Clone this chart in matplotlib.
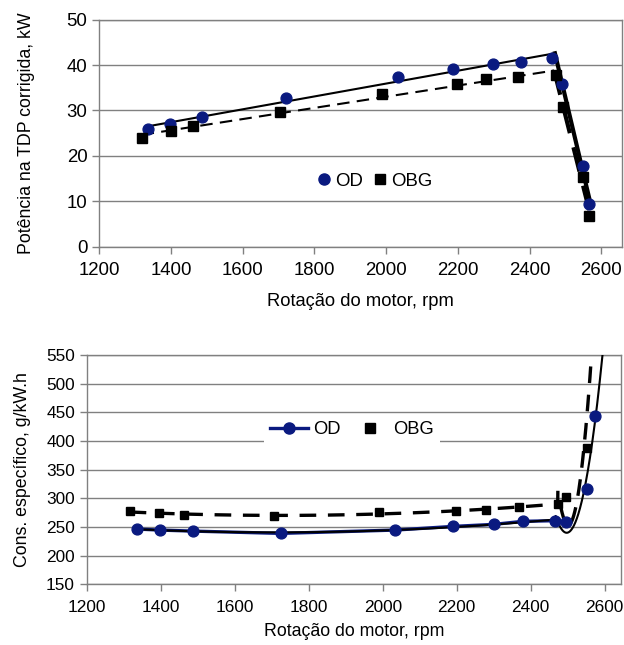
import numpy as np
import matplotlib
matplotlib.use("Agg")
import matplotlib.pyplot as plt
from matplotlib.lines import Line2D

plt.rcParams['font.family'] = ['Liberation Sans', 'DejaVu Sans']

# ---- data: power (top) ----
od_rpm = [1335, 1397, 1487, 1721, 2032, 2187, 2299, 2375, 2463, 2490, 2550, 2567]
od_pow = [25.9, 27.0, 28.6, 32.8, 37.4, 39.1, 40.3, 40.6, 41.6, 35.9, 17.8, 9.4]
obg_rpm = [1318, 1399, 1460, 1705, 1989, 2197, 2280, 2368, 2473, 2493, 2548, 2567]
obg_pow = [24.0, 25.5, 26.5, 29.7, 33.7, 35.9, 36.9, 37.4, 37.7, 30.8, 15.3, 6.9]

# ---- data: specific consumption (bottom) ----
od_rpm2 = [1335, 1397, 1487, 1724, 2034, 2190, 2300, 2378, 2467, 2495, 2552, 2573]
od_cons = [246.4, 244.6, 242.8, 238.8, 244.6, 251.0, 254.5, 259.8, 261.0, 258.6, 316.4, 443.1]
obg_rpm2 = [1316, 1396, 1462, 1707, 1989, 2197, 2280, 2369, 2473, 2495, 2553, 2567]
obg_cons = [277.9, 273.8, 270.9, 268.5, 275.5, 277.9, 280.2, 285.5, 289.6, 303.0, 387.1, 620.0]

xticks = [1200, 1400, 1600, 1800, 2000, 2200, 2400, 2600]
yticks_top = [0, 10, 20, 30, 40, 50]
yticks_bot = [150, 200, 250, 300, 350, 400, 450, 500, 550]

NAVY = '#0a1a80'
GRID = '#808080'
FS_TOP = 13.4
FS_BOT = 12.4
LFS = 13.2

fig = plt.figure(figsize=(6.24, 6.45), dpi=100)
ax1 = fig.add_axes([99.3 / 624, 1 - 247 / 645, (621.5 - 99.3) / 624, (247 - 19.5) / 645])
ax2 = fig.add_axes([86.7 / 624, 1 - 584.3 / 645, (621.5 - 86.7) / 624, (584.3 - 355) / 645])


def style(ax, yt, ylim, xmax, fs):
    ax.set_xlim(1200, xmax)
    ax.set_ylim(*ylim)
    ax.set_xticks(xticks)
    ax.set_yticks(yt)
    ax.tick_params(labelsize=fs, direction='out', length=5, color=GRID, width=1)
    ax.tick_params(axis='x', pad=6)
    for s in ax.spines.values():
        s.set_color(GRID)
        s.set_linewidth(1)
    ax.yaxis.grid(True, color=GRID, lw=1)
    ax.set_axisbelow(True)


def seg_fit(x, y, i0, i1, deg=1):
    x = np.asarray(x[i0:i1], float)
    y = np.asarray(y[i0:i1], float)
    return np.polyfit(x - 2000, y, deg)


# ---- top ----
style(ax1, yticks_top, (0, 50), 1200 + (621.5 - 99.3) / 71.7 * 200, FS_TOP)
for xs, ys, ls in [(od_rpm, od_pow, '-'), (obg_rpm, obg_pow, (0, (6, 3.5)))]:
    p1 = seg_fit(xs, ys, 0, 9)
    p2 = seg_fit(xs, ys, 9, len(xs))
    xi = (p2[1] - p1[1]) / (p1[0] - p2[0]) + 2000
    xa = np.array([xs[0], xi])
    xb = np.array([xi, xs[-1]])
    ax1.plot(xa, np.polyval(p1, xa - 2000), color='black', ls=ls, lw=1.5, zorder=3)
    ax1.plot(xb, np.polyval(p2, xb - 2000), color='black', ls=ls, lw=3.0, zorder=3)
ax1.plot(od_rpm, od_pow, 'o', color=NAVY, ms=7.8, ls='none', zorder=4)
ax1.plot(obg_rpm, obg_pow, 's', color='black', ms=6.8, ls='none', zorder=4)
ax1.set_xlabel('Rotação do motor, rpm', fontsize=LFS, labelpad=10)
ax1.set_ylabel('Potência na TDP corrigida, kW', fontsize=12.8, labelpad=23)
h1 = [Line2D([], [], marker='o', color=NAVY, ls='none', ms=8),
      Line2D([], [], marker='s', color='black', ls='none', ms=6.5)]
ax1.legend(h1, ['OD', 'OBG'], loc='center', bbox_to_anchor=(0.528, 0.29), ncol=2,
           frameon=False, fontsize=FS_TOP, handlelength=0.7, handletextpad=0.25,
           columnspacing=0.6)

# ---- bottom ----
style(ax2, yticks_bot, (150, 550), 1200 + (621.5 - 86.7) / 74.0 * 200, FS_BOT)
for xs, ys, ls, lw in [(od_rpm2, od_cons, '-', 1.5), (obg_rpm2, obg_cons, (0, (5, 3.5)), 2.4)]:
    pa = seg_fit(xs, ys, 0, 9, 2)
    pb = seg_fit(xs, ys, 8, len(xs), 2)
    xa = np.linspace(xs[0], xs[8], 200)
    xb = np.linspace(xs[8], 2600, 300)
    xc = np.concatenate([xa, xb[1:]])
    yc = np.concatenate([np.polyval(pa, xa - 2000), np.polyval(pb, xb[1:] - 2000)])
    ax2.plot(xc, yc, color='black', ls=ls, lw=lw, zorder=3)
ax2.plot(od_rpm2[:10], od_cons[:10], '-', color=NAVY, lw=2.4, zorder=2.5)
ax2.plot(od_rpm2, od_cons, 'o', color=NAVY, ms=7.8, ls='none', zorder=4)
ax2.plot(obg_rpm2, obg_cons, 's', color='black', ms=6.2, ls='none', zorder=4)
ax2.set_xlabel('Rotação do motor, rpm', fontsize=12.8, labelpad=6)
ax2.set_ylabel('Cons. específico, g/kW.h', fontsize=12.8, labelpad=11)
h2 = [Line2D([], [], marker='o', color=NAVY, lw=2.4, ms=8),
      Line2D([], [], marker='s', color='black', ls='none', ms=6.5)]
leg = ax2.legend(h2, ['OD', 'OBG'], loc='center', bbox_to_anchor=(0.496, 0.675), ncol=2,
                 frameon=True, fontsize=13.2, handlelength=2.1, handletextpad=0.25,
                 columnspacing=0.55, fancybox=False, framealpha=1,
                 borderpad=0.3, borderaxespad=0)
leg.get_frame().set_edgecolor('white')
leg.get_frame().set_linewidth(0)

fig.savefig('out.png', dpi=100)
